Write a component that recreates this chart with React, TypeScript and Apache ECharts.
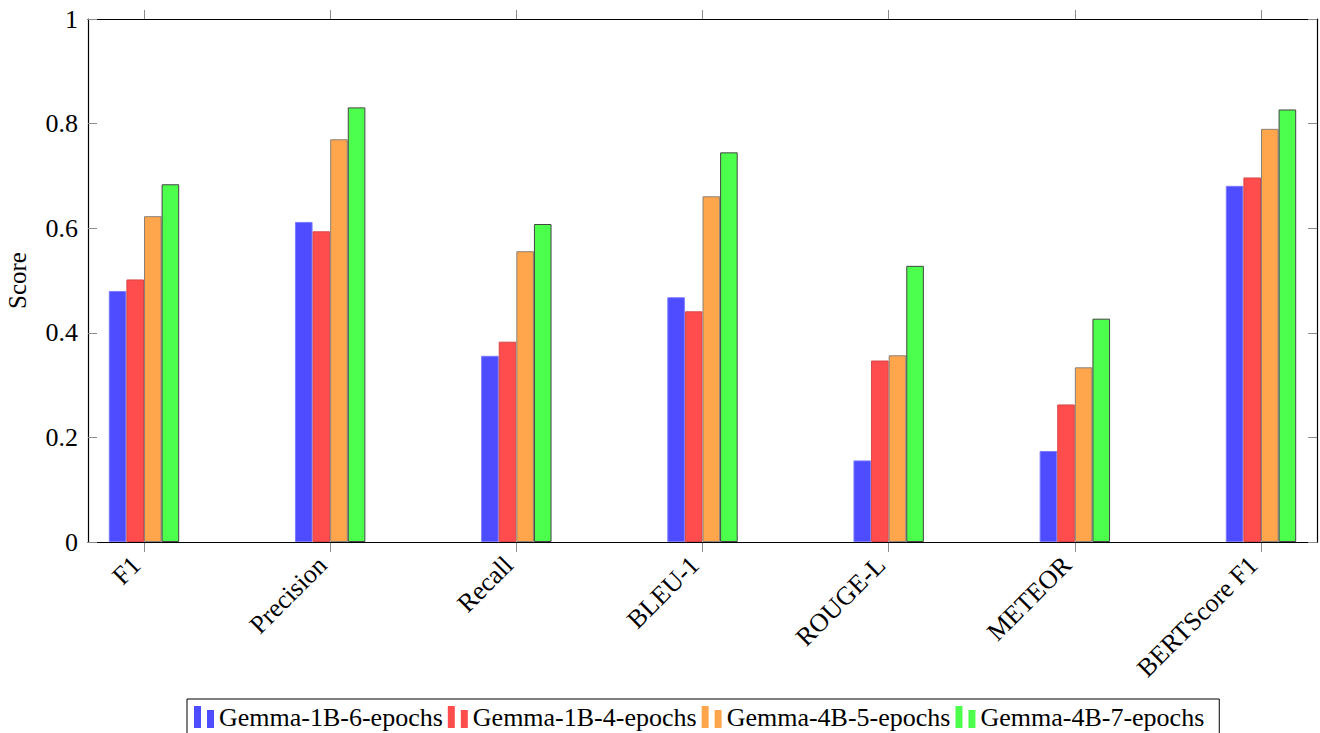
import React, { useEffect, useRef } from "react";
import * as echarts from "echarts";

const categories = ["F1", "Precision", "Recall", "BLEU-1", "ROUGE-L", "METEOR", "BERTScore F1"];
const seriesNames = ["Gemma-1B-6-epochs", "Gemma-1B-4-epochs", "Gemma-4B-5-epochs", "Gemma-4B-7-epochs"];
const gemma1b6 = [0.48, 0.612, 0.356, 0.468, 0.156, 0.174, 0.681];
const gemma1b4 = [0.502, 0.594, 0.383, 0.441, 0.347, 0.263, 0.697];
const gemma4b5 = [0.623, 0.77, 0.556, 0.661, 0.357, 0.334, 0.79];
const gemma4b7 = [0.684, 0.831, 0.608, 0.745, 0.528, 0.427, 0.827];
const seriesValues = [gemma1b6, gemma1b4, gemma4b5, gemma4b7];
const fillColors = ["#4d4dff", "#ff4d4d", "#ffa64d", "#4dff4d"];
const borderColors = ["#7a7aff", "#d84444", "#8a8078", "#444444"];

const FONT = "'Liberation Serif', 'Times New Roman', serif";

export default function App() {
  const ref = useRef<HTMLDivElement>(null);
  useEffect(() => {
    if (!ref.current) return;
    const chart = echarts.init(ref.current, undefined, { renderer: "svg" });
    const frameGrid = { left: 88, right: 3, top: 19, bottom: 191, outerBoundsMode: "none", containLabel: false };
    const barGrid = { left: 144, right: 59, top: 19, bottom: 191, outerBoundsMode: "none", containLabel: false };
    const option: any = {
      animation: false,
      backgroundColor: "#ffffff",
      textStyle: { fontFamily: FONT },
      grid: [frameGrid, barGrid],
      xAxis: [
        {
          type: "value", gridIndex: 0, min: 0, max: 1, position: "bottom", z: 5,
          axisLine: { show: true, onZero: false, lineStyle: { color: "#000", width: 1.2 } },
          axisTick: { show: false }, axisLabel: { show: false }, splitLine: { show: false },
        },
        {
          type: "value", gridIndex: 0, min: 0, max: 1, position: "top", z: 5,
          axisLine: { show: true, onZero: false, lineStyle: { color: "#000", width: 1.2 } },
          axisTick: { show: false }, axisLabel: { show: false }, splitLine: { show: false },
        },
        {
          type: "category", gridIndex: 1, data: categories, boundaryGap: false, position: "bottom",
          axisLine: { show: false, onZero: false },
          axisTick: { show: true, inside: false, length: 10, interval: 0, lineStyle: { color: "#8c8c8c", width: 1 } },
          axisLabel: {
            show: true, interval: 0, rotate: 45, margin: 11, verticalAlign: "middle", align: "right",
            padding: [0, 11, 0, 0],
            color: "#000", fontSize: 26, fontFamily: FONT,
          },
          splitLine: { show: false },
        },
        {
          type: "category", gridIndex: 1, data: categories, boundaryGap: false, position: "top",
          axisLine: { show: false, onZero: false },
          axisTick: { show: true, inside: false, length: 9, interval: 0, lineStyle: { color: "#8c8c8c", width: 1 } },
          axisLabel: { show: false }, splitLine: { show: false },
        },
      ],
      yAxis: [
        {
          type: "value", gridIndex: 0, min: 0, max: 1, interval: 0.2, position: "left", z: 5,
          axisLine: { show: true, onZero: false, lineStyle: { color: "#000", width: 1.2 } },
          axisTick: { show: true, inside: true, length: 9, lineStyle: { color: "#8c8c8c", width: 1 } },
          axisLabel: { show: true, margin: 10, color: "#000", fontSize: 26, fontFamily: FONT },
          splitLine: { show: false },
          name: "Score", nameLocation: "middle", nameRotate: 90, nameGap: 58,
          nameTextStyle: { color: "#000", fontSize: 25, fontFamily: FONT },
        },
        {
          type: "value", gridIndex: 0, min: 0, max: 1, interval: 0.2, position: "right", z: 5,
          axisLine: { show: true, onZero: false, lineStyle: { color: "#000", width: 1.2 } },
          axisTick: { show: true, inside: true, length: 9, lineStyle: { color: "#8c8c8c", width: 1 } },
          axisLabel: { show: false }, splitLine: { show: false },
        },
        {
          type: "value", gridIndex: 1, min: 0, max: 1, show: false,
        },
      ],
      legend: {
        show: true,
        left: 187, top: 699,
        orient: "horizontal",
        data: seriesNames,
        icon: "path://M0,0h7v22h-7zM13,4h7v18h-7z",
        itemWidth: 20, itemHeight: 22, itemGap: 5,
        padding: [5, 15, 10, 7],
        borderColor: "#000", borderWidth: 1,
        itemStyle: { borderWidth: 0 },
        textStyle: { color: "#000", fontSize: 26, fontFamily: FONT },
      },
      series: seriesNames.map((name, i) => ({
        name, type: "bar", xAxisIndex: 2, yAxisIndex: 2,
        data: seriesValues[i],
        barWidth: 17.6, barGap: "0%", clip: false,
        itemStyle: { color: fillColors[i], borderColor: borderColors[i], borderWidth: 1 },
      })),
    };
    chart.setOption(option);
    return () => chart.dispose();
  }, []);
  return (
    <div
      ref={ref}
      style={{ position: "fixed", left: 0, top: 0, width: 1320, height: 733, background: "#fff" }}
    />
  );
}
